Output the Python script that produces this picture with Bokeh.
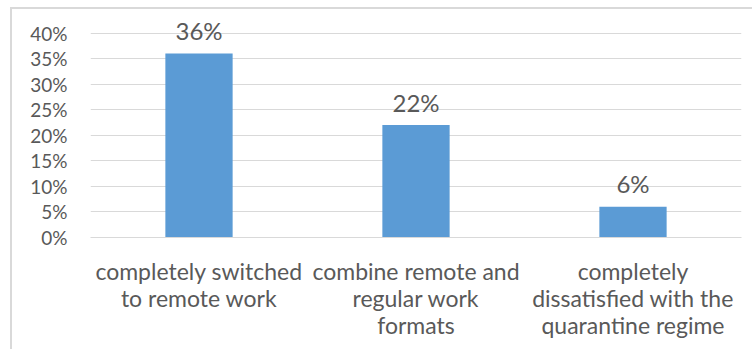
from bokeh.plotting import figure
from bokeh.models import ColumnDataSource, FixedTicker, NumeralTickFormatter, Range1d
from bokeh.embed import file_html
from bokeh.resources import INLINE
from bokeh.core.properties import value

# Survey answers and their shares
categories = [
    "completely switched\nto remote work",
    "combine remote and\nregular work\nformats",
    "completely\ndissatisfied with the\nquarantine regime",
]
shares = [0.36, 0.22, 0.06]
share_labels = ["36%", "22%", "6%"]
y_ticks = [0, 0.05, 0.10, 0.15, 0.20, 0.25, 0.30, 0.35, 0.40]

FONT = "Lato"
TEXT_COLOR = "#595959"
GRID_COLOR = "#d9d9d9"
BAR_COLOR = "#5b9bd5"

src = ColumnDataSource(dict(cat=categories, share=shares, label=share_labels))

p = figure(
    width=742, height=342,
    x_range=categories,
    y_range=Range1d(0, 0.4345),
    output_backend="svg",
    toolbar_location=None,
    min_border_left=78, min_border_right=13,
    min_border_top=6, min_border_bottom=114,
    margin=(7, 0, 0, 10),
)
# light frame along the top and left of the chart area
p.styles = {"border-top": f"2px solid {GRID_COLOR}",
            "border-left": f"2px solid {GRID_COLOR}"}
p.outline_line_color = None
p.background_fill_color = "white"
p.border_fill_color = "white"

p.vbar(x="cat", top="share", width=0.31, source=src,
       fill_color=BAR_COLOR, line_color=None)

p.text(x="cat", y="share", text="label", source=src,
       text_align="center", text_baseline="middle", y_offset=-23,
       text_font=value(FONT), text_font_size="24px", text_color=TEXT_COLOR)

# y axis: percentage ticks, no axis line
p.yaxis.ticker = FixedTicker(ticks=y_ticks)
p.yaxis.formatter = NumeralTickFormatter(format="0%")
p.yaxis.axis_line_color = None
p.yaxis.major_tick_line_color = None
p.yaxis.minor_tick_line_color = None
p.yaxis.major_label_standoff = 17
p.yaxis.major_label_text_font = FONT
p.yaxis.major_label_text_font_size = "19px"
p.yaxis.major_label_text_color = TEXT_COLOR

# x axis: category names, wrapped
p.xaxis.axis_line_color = GRID_COLOR
p.xaxis.axis_line_width = 1
p.xaxis.major_tick_line_color = None
p.xaxis.minor_tick_line_color = None
p.xaxis.major_label_standoff = 13
p.xaxis.major_label_text_font = FONT
p.xaxis.major_label_text_font_size = "23px"
p.xaxis.major_label_text_color = TEXT_COLOR
p.xaxis.major_label_text_line_height = 0.98

p.xgrid.grid_line_color = None
p.ygrid.grid_line_color = GRID_COLOR
p.ygrid.grid_line_width = 1

open("out.html", "w").write(file_html(p, INLINE))
